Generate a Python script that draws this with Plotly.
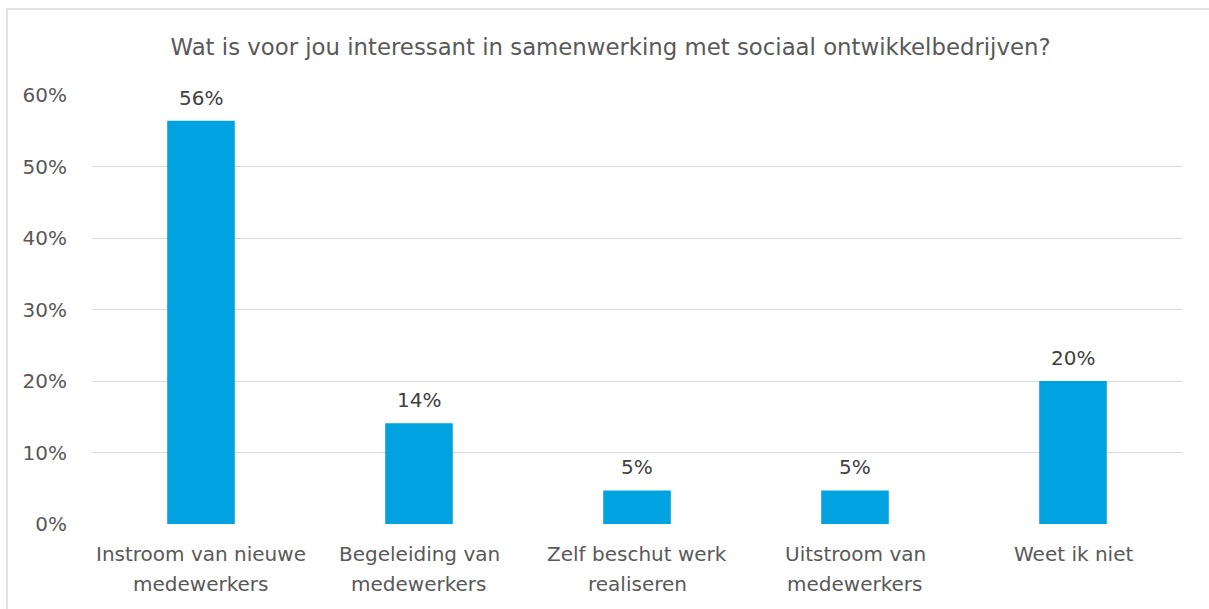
import plotly.graph_objects as go

categories = ["Instroom van nieuwe\nmedewerkers", "Begeleiding van\nmedewerkers",
              "Zelf beschut werk\nrealiseren", "Uitstroom van\nmedewerkers", "Weet ik niet"]
values = [0.564, 0.141, 0.047, 0.047, 0.20]
value_labels = ["56%", "14%", "5%", "5%", "20%"]
tick_vals = [0, 0.1, 0.2, 0.3, 0.4, 0.5, 0.6]
tick_text = ["0%", "10%", "20%", "30%", "40%", "50%", "60%"]
title = "Wat is voor jou interessant in samenwerking met sociaal ontwikkelbedrijven?"

FONT = "DejaVu Sans"
FS = 20
GREY = "#595959"
x_keys = [c.replace("\n", " ") for c in categories]

fig = go.Figure(go.Bar(x=x_keys, y=values, marker=dict(color="#00A3E0", line=dict(width=0)),
                       width=0.31, hoverinfo="skip"))

ann = []
for xk, v, lab in zip(x_keys, values, value_labels):
    ann.append(dict(x=xk, y=v, text=lab, showarrow=False, yanchor="bottom", yshift=9,
                    font=dict(family=FONT, size=FS, color="#404040")))
for xk, c in zip(x_keys, categories):
    for i, line in enumerate(c.split("\n")):
        ann.append(dict(x=xk, y=-0.069 - 0.07 * i, yref="paper", text=line, showarrow=False,
                        yanchor="middle", font=dict(family=FONT, size=FS, color=GREY)))

fig.update_layout(
    width=1209, height=609,
    margin=dict(l=92, r=27, t=95, b=85),
    paper_bgcolor="white", plot_bgcolor="white",
    showlegend=False,
    bargap=0.69,
    title=dict(text=title, x=0.505, xanchor="center", y=1 - 47 / 609, yanchor="middle",
               font=dict(family=FONT, size=22.8, color=GREY)),
    xaxis=dict(showticklabels=False, showgrid=False, zeroline=False, showline=False),
    yaxis=dict(range=[0, 0.6], tickvals=tick_vals, ticktext=tick_text, showgrid=True,
               gridcolor="#D9D9D9", gridwidth=1, zeroline=False, showline=False,
               ticks="", ticklabelstandoff=24,
               tickfont=dict(family=FONT, size=FS, color=GREY)),
    annotations=ann,
    font=dict(family=FONT),
    shapes=[dict(type="rect", xref="paper", yref="paper", x0=-0.078, x1=1.2, y0=-0.3, y1=1.2003,
                 line=dict(color="#D9D9D9", width=1.5), layer="below")],
)
fig.write_html("out.html")
